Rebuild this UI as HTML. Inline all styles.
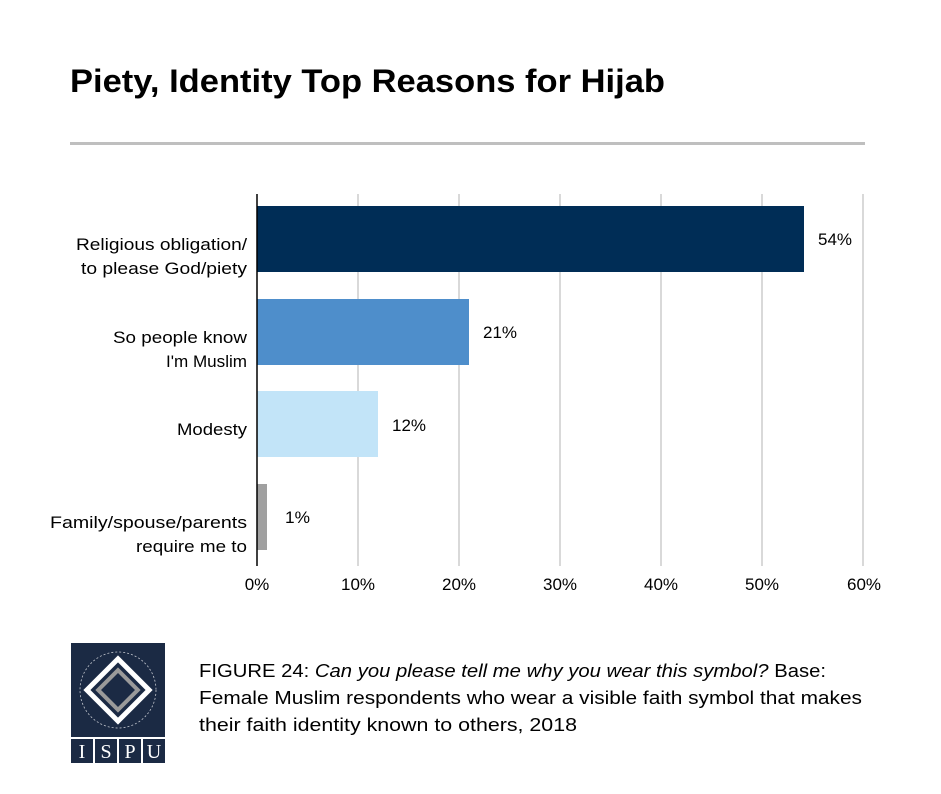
<!DOCTYPE html>
<html><head><style>
body{margin:0;background:#fff;}
svg text{font-family:"Liberation Sans",sans-serif;}
</style></head><body>
<svg width="941" height="789" xmlns="http://www.w3.org/2000/svg">
<rect width="941" height="789" fill="#fff"/>
<text x="70" y="92" font-size="32" font-weight="bold" fill="#000" textLength="595" lengthAdjust="spacingAndGlyphs">Piety, Identity Top Reasons for Hijab</text>
<rect x="70" y="142" width="795" height="3" fill="#bfbfbf"/>
<g stroke="#d9d9d9" stroke-width="2">
<line x1="358" y1="194" x2="358" y2="566"/><line x1="459" y1="194" x2="459" y2="566"/>
<line x1="560" y1="194" x2="560" y2="566"/><line x1="661" y1="194" x2="661" y2="566"/>
<line x1="762" y1="194" x2="762" y2="566"/><line x1="863" y1="194" x2="863" y2="566"/>
</g>
<rect x="257" y="206" width="547" height="66" fill="#002d56"/>
<rect x="257" y="299" width="212" height="66" fill="#4e8ecb"/>
<rect x="257" y="391" width="121" height="66" fill="#c2e4f8"/>
<rect x="257" y="484" width="10" height="66" fill="#a0a0a0"/>
<line x1="257" y1="194" x2="257" y2="566" stroke="#000" stroke-width="1.5"/>
<g font-size="17" fill="#000">
<text x="818" y="245" textLength="34" lengthAdjust="spacingAndGlyphs">54%</text>
<text x="483" y="338" textLength="34" lengthAdjust="spacingAndGlyphs">21%</text>
<text x="392" y="431" textLength="34" lengthAdjust="spacingAndGlyphs">12%</text>
<text x="285" y="523" textLength="25" lengthAdjust="spacingAndGlyphs">1%</text>
</g>
<g font-size="17" fill="#000">
<text x="76" y="250" textLength="171" lengthAdjust="spacingAndGlyphs">Religious obligation/</text>
<text x="81" y="274" textLength="166" lengthAdjust="spacingAndGlyphs">to please God/piety</text>
<text x="113" y="343" textLength="134" lengthAdjust="spacingAndGlyphs">So people know</text>
<text x="166" y="367" textLength="81" lengthAdjust="spacingAndGlyphs">I'm Muslim</text>
<text x="177" y="435" textLength="70" lengthAdjust="spacingAndGlyphs">Modesty</text>
<text x="50" y="528" textLength="197" lengthAdjust="spacingAndGlyphs">Family/spouse/parents</text>
<text x="136" y="552" textLength="111" lengthAdjust="spacingAndGlyphs">require me to</text>
</g>
<g font-size="17" fill="#000" text-anchor="middle">
<text x="257" y="590">0%</text><text x="358" y="590">10%</text><text x="459" y="590">20%</text>
<text x="560" y="590">30%</text><text x="661" y="590">40%</text><text x="762" y="590">50%</text><text x="864" y="590">60%</text>
</g>
<rect x="71" y="643" width="94" height="94" fill="#1b2a44"/>
<g transform="translate(118,690) rotate(45)">
<rect x="-22" y="-22" width="44" height="44" fill="none" stroke="#fff" stroke-width="5"/>
<rect x="-14" y="-14" width="28" height="28" fill="none" stroke="#9a9a9a" stroke-width="4"/>
</g>
<circle cx="118" cy="690" r="38" fill="none" stroke="#c0c4cc" stroke-width="0.8" stroke-dasharray="2 2"/>
<rect x="71" y="739" width="22" height="24" fill="#1b2a44"/>
<rect x="95" y="739" width="22" height="24" fill="#1b2a44"/>
<rect x="119" y="739" width="22" height="24" fill="#1b2a44"/>
<rect x="143" y="739" width="22" height="24" fill="#1b2a44"/>
<g font-size="20" fill="#fff" text-anchor="middle" style="font-family:'Liberation Serif',serif">
<text x="82" y="758" style="font-family:'Liberation Serif',serif">I</text><text x="106" y="758" style="font-family:'Liberation Serif',serif">S</text><text x="130" y="758" style="font-family:'Liberation Serif',serif">P</text><text x="154" y="758" style="font-family:'Liberation Serif',serif">U</text>
</g>
<g font-size="18" fill="#000">
<text x="199" y="677" textLength="627" lengthAdjust="spacingAndGlyphs">FIGURE 24: <tspan font-style="italic">Can you please tell me why you wear this symbol?</tspan> Base:</text>
<text x="199" y="704" textLength="663" lengthAdjust="spacingAndGlyphs">Female Muslim respondents who wear a visible faith symbol that makes</text>
<text x="199" y="731" textLength="378" lengthAdjust="spacingAndGlyphs">their faith identity known to others, 2018</text>
</g>
</svg>
</body></html>
